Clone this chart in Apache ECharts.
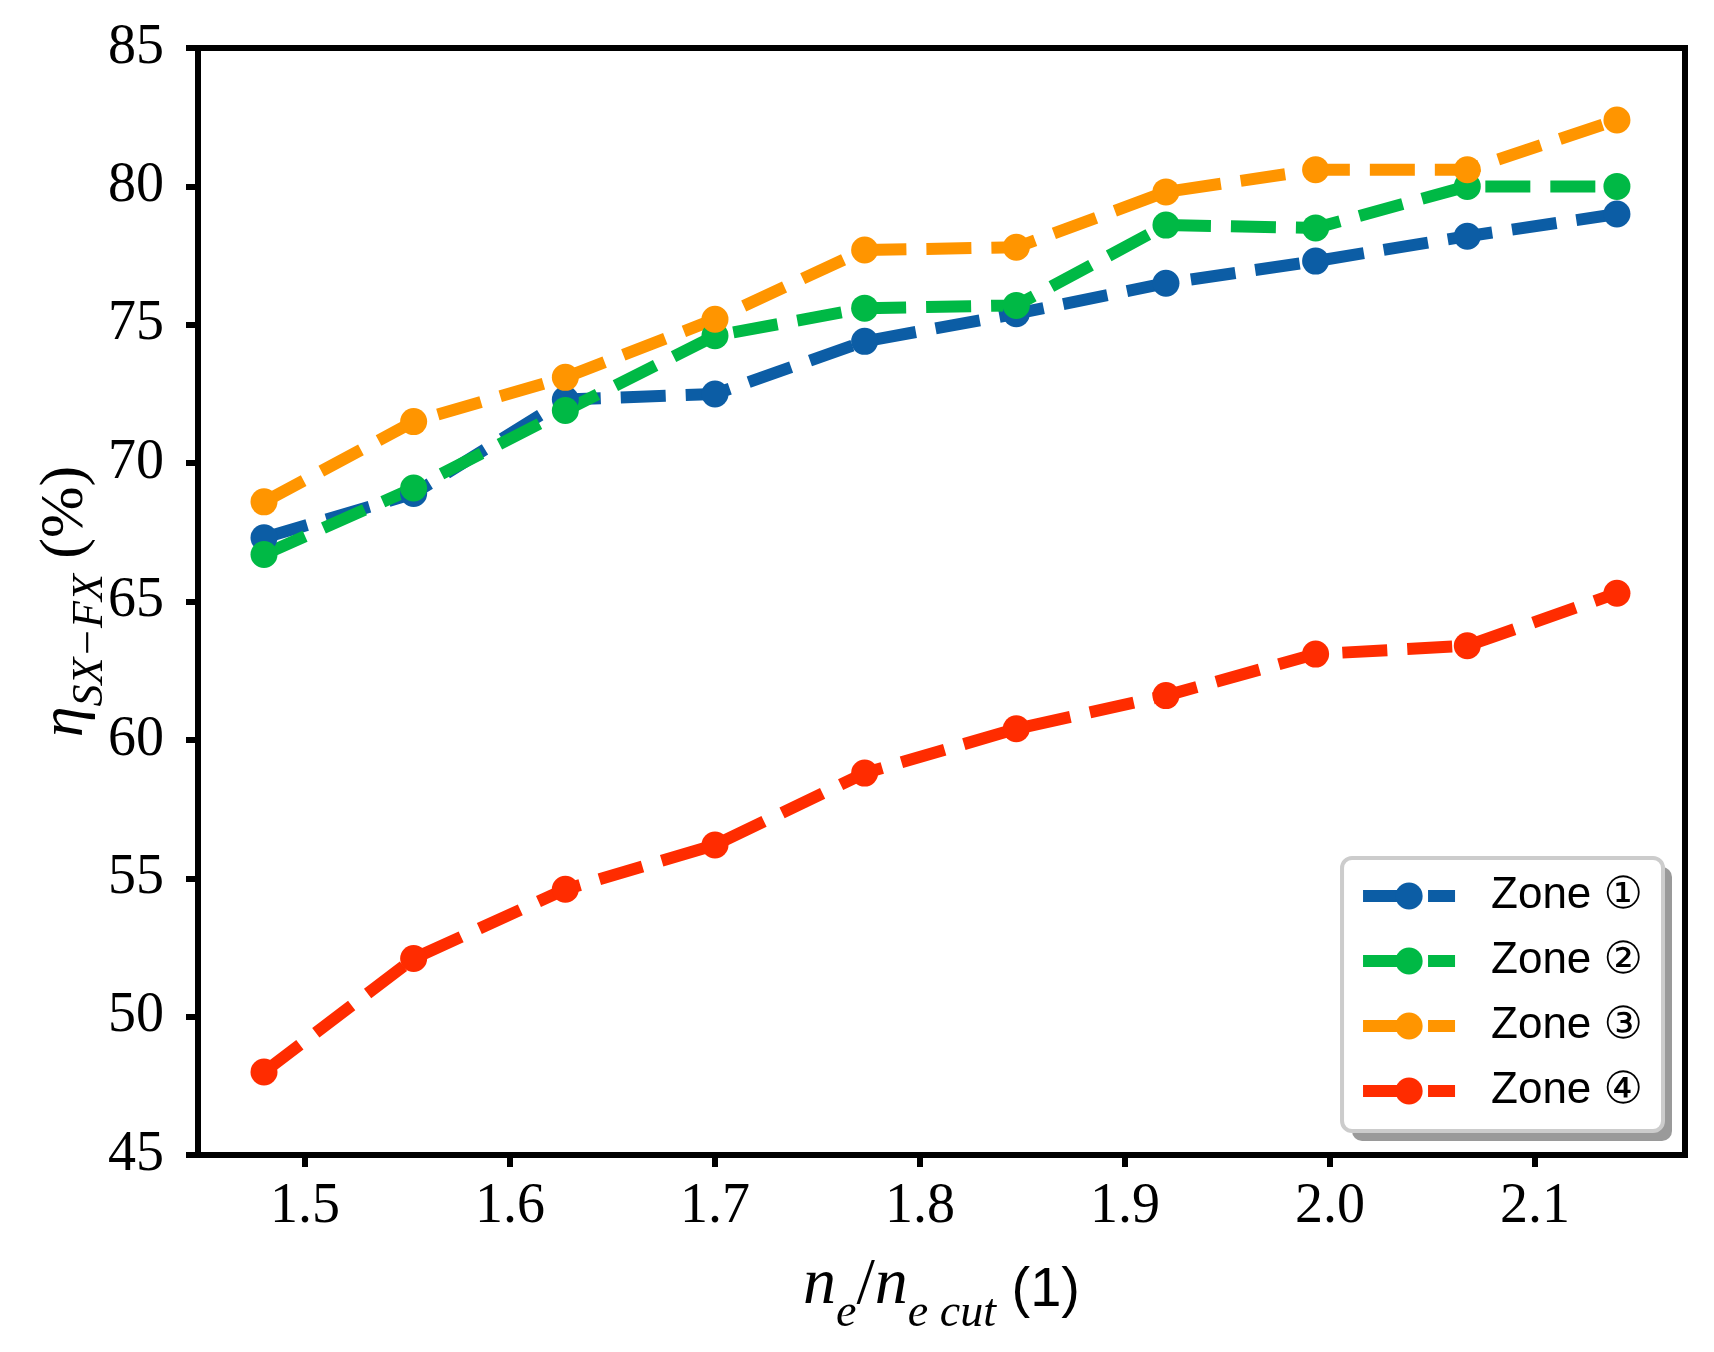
<!DOCTYPE html>
<html>
<head>
<meta charset="utf-8">
<script src="https://cdn.jsdelivr.net/npm/echarts@6/dist/echarts.min.js"></script>
<style>
  html, body { margin: 0; padding: 0; background: #fff; }
  #chart { width: 1714px; height: 1352px; }
</style>
</head>
<body>
<div id="chart"></div>
<script>
// n_e / n_e,cut
const xValues = [1.480, 1.553, 1.627, 1.700, 1.773, 1.847, 1.920, 1.993, 2.067, 2.140];

// eta_SX-FX (%) per zone
const zone1 = [67.3, 68.9, 72.3, 72.5, 74.4, 75.4, 76.5, 77.3, 78.2, 79.0];
const zone2 = [66.7, 69.1, 71.9, 74.6, 75.6, 75.7, 78.6, 78.5, 80.0, 80.0];
const zone3 = [68.6, 71.5, 73.1, 75.2, 77.7, 77.8, 79.8, 80.6, 80.6, 82.4];
const zone4 = [48.0, 52.1, 54.6, 56.2, 58.8, 60.4, 61.6, 63.1, 63.4, 65.3];

const zoneNames = ['Zone ①', 'Zone ②', 'Zone ③', 'Zone ④'];
const zoneColors = ['#0C5DA5', '#00B945', '#FF9500', '#FF2C00'];

const xTicks = [1.5, 1.6, 1.7, 1.8, 1.9, 2.0, 2.1];

const serif = '"Liberation Serif", "DejaVu Serif", serif';
const sans = '"Liberation Sans", "DejaVu Sans", sans-serif';

const chart = echarts.init(document.getElementById('chart'));

const makeSeries = (name, values, color) => ({
  name: name,
  type: 'line',
  data: values.map((v, i) => [xValues[i], v]),
  symbol: 'circle',
  symbolSize: 27,
  itemStyle: { color: color },
  lineStyle: { color: color, width: 12, type: [45, 20], cap: 'butt' },
  emphasis: { disabled: true }
});

// rich styles for the math-like axis names (sub = lowered smaller text)
const mathRich = {
  i: { fontFamily: serif, fontStyle: 'italic', fontSize: 66, lineHeight: 66, padding: [0, 0, 18, 0], verticalAlign: 'bottom', color: '#000' },
  s: { fontFamily: serif, fontStyle: 'italic', fontSize: 46, lineHeight: 46, verticalAlign: 'bottom', color: '#000' },
  r: { fontFamily: serif, fontSize: 66, lineHeight: 66, padding: [0, 0, 18, 0], verticalAlign: 'bottom', color: '#000' },
  rs: { fontFamily: sans, fontSize: 56, lineHeight: 66, padding: [0, 0, 18, 0], verticalAlign: 'bottom', color: '#000' }
};

// slightly tighter version for the rotated y name
const mathRichY = {
  i: { fontFamily: serif, fontStyle: 'italic', fontSize: 62, lineHeight: 62, padding: [0, 0, 15, 0], verticalAlign: 'bottom', color: '#000' },
  s: { fontFamily: serif, fontStyle: 'italic', fontSize: 44, lineHeight: 44, verticalAlign: 'bottom', color: '#000' },
  r: { fontFamily: serif, fontSize: 62, lineHeight: 62, padding: [0, 0, 15, 0], verticalAlign: 'bottom', color: '#000' }
};

const option = {
  animation: false,
  backgroundColor: '#fff',
  grid: {
    left: 198, right: 29, top: 48, bottom: 197,
    containLabel: false,
    outerBoundsMode: 'none',
    show: true, borderColor: '#000', borderWidth: 6, backgroundColor: 'transparent'
  },
  // legend drop shadow
  graphic: [{
    type: 'rect',
    right: 42,
    top: 867,
    z: 3,
    shape: { width: 320, height: 274, r: 10 },
    style: { fill: '#9a9a9a' }
  }],
  legend: {
    orient: 'vertical',
    right: 51,
    top: 858,
    align: 'left',
    itemWidth: 92,
    itemHeight: 34,
    itemGap: 21,
    padding: [16, 20, 18, 15],
    backgroundColor: '#fff',
    borderColor: '#cccccc',
    borderWidth: 4,
    borderRadius: 10,
    z: 10,
    lineStyle: { width: 12, type: [45, 20], cap: 'butt' },
    textStyle: { fontFamily: sans, fontSize: 44, lineHeight: 44, color: '#000', padding: [0, 0, 0, 31] },
    data: zoneNames
  },
  xAxis: {
    type: 'value',
    min: 1.4478,
    max: 2.1732,
    name: '{i|n}{s|e}{r|/}{i|n}{s|e cut}{rs| (1)}',
    nameLocation: 'middle',
    nameGap: 116,
    nameMoveOverlap: false,
    nameTextStyle: { rich: mathRich },
    splitLine: { show: false },
    axisLine: { show: true, onZero: false, lineStyle: { color: '#000', width: 6 } },
    axisTick: { show: true, customValues: xTicks, length: 12, lineStyle: { color: '#000', width: 6 } },
    axisLabel: {
      customValues: xTicks,
      margin: 24,
      fontFamily: serif,
      fontSize: 56,
      color: '#000',
      formatter: v => v.toFixed(1)
    }
  },
  yAxis: {
    type: 'value',
    min: 45,
    max: 85,
    interval: 5,
    name: '{i|η}{s|SX−FX}{r| (%)}',
    nameLocation: 'middle',
    nameRotate: 90,
    nameGap: 86,
    nameMoveOverlap: false,
    nameTextStyle: { rich: mathRichY },
    splitLine: { show: false },
    axisLine: { show: true, onZero: false, lineStyle: { color: '#000', width: 6 } },
    axisTick: { show: true, length: 12, lineStyle: { color: '#000', width: 6 } },
    axisLabel: { margin: 34, fontFamily: serif, fontSize: 56, color: '#000' }
  },
  series: [
    makeSeries(zoneNames[0], zone1, zoneColors[0]),
    makeSeries(zoneNames[1], zone2, zoneColors[1]),
    makeSeries(zoneNames[2], zone3, zoneColors[2]),
    makeSeries(zoneNames[3], zone4, zoneColors[3])
  ]
};

chart.setOption(option);
window.addEventListener('resize', () => chart.resize());
</script>
</body>
</html>
